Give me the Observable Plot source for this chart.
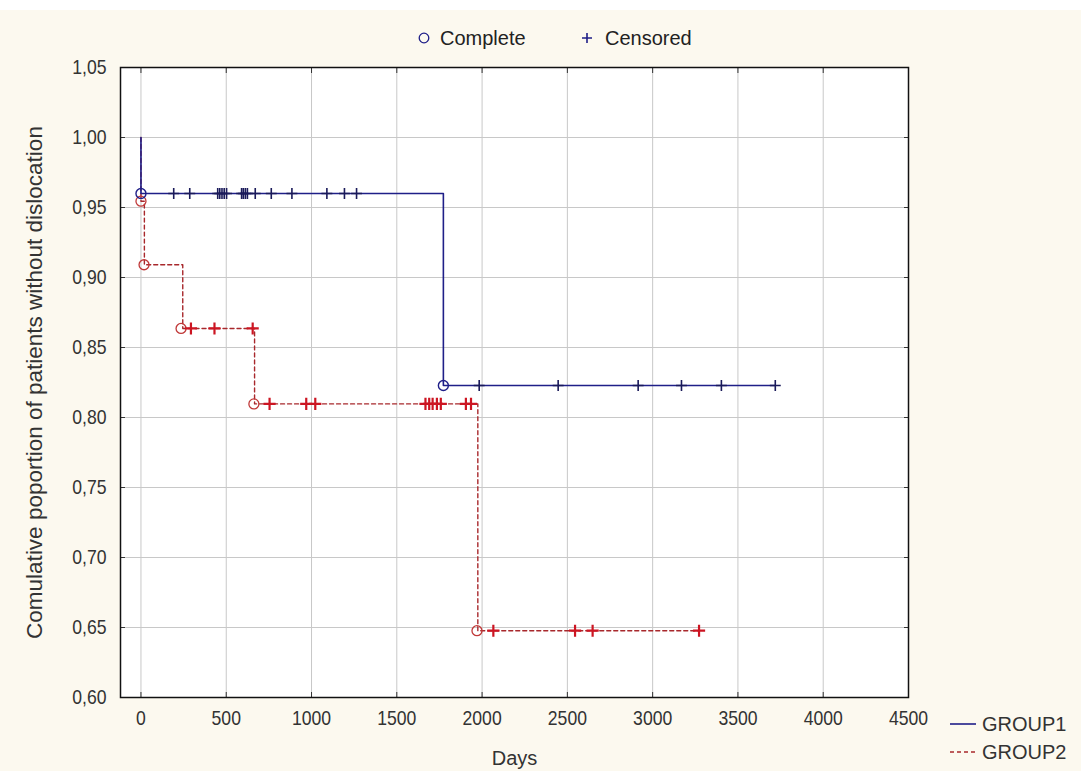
<!DOCTYPE html>
<html><head><meta charset="utf-8">
<script src="https://cdn.jsdelivr.net/npm/d3@7"></script>
<script src="https://cdn.jsdelivr.net/npm/@observablehq/plot@0.6"></script>
<style>
html,body{margin:0;padding:0;background:#fcf9ef;}
#chart svg{display:block;}
</style></head><body><div id="chart"></div>
<script>
// ---- data ----
const groups = ["GROUP1", "GROUP2"];
const statusLabels = ["Complete", "Censored"];
const xTicks = [0, 500, 1000, 1500, 2000, 2500, 3000, 3500, 4000, 4500];
const yTicks = [0.60, 0.65, 0.70, 0.75, 0.80, 0.85, 0.90, 0.95, 1.00, 1.05];

// Kaplan-Meier step vertices
const g1StepDays = [0, 0, 1773, 3719];
const g1StepSurv = [1.0, 0.96, 0.8229, 0.8229];
const g2StepDays = [0, 0, 20, 245, 666, 1975, 3272];
const g2StepSurv = [1.0, 0.9545, 0.9091, 0.8636, 0.8097, 0.6477, 0.6477];

// complete (event) observations
const g1CompleteDays = [0, 1773];
const g1CompleteSurv = [0.96, 0.8229];
const g2CompleteDays = [0, 18, 235, 662, 1970];
const g2CompleteSurv = [0.9545, 0.9091, 0.8636, 0.8097, 0.6477];

// censored observations
const g1CensoredDays = [192, 286, 450, 462, 475, 488, 502, 590, 600, 612, 624, 670, 764, 885, 1090, 1193, 1264,
                        1983, 2446, 2915, 3169, 3403, 3719];
const g1CensoredSurv = [0.96, 0.96, 0.96, 0.96, 0.96, 0.96, 0.96, 0.96, 0.96, 0.96, 0.96, 0.96, 0.96, 0.96, 0.96, 0.96, 0.96,
                        0.8229, 0.8229, 0.8229, 0.8229, 0.8229, 0.8229];
const g2CensoredDays = [293, 431, 655, 754, 969, 1022, 1668, 1690, 1710, 1735, 1758, 1905, 1935, 2066, 2545, 2648, 3272];
const g2CensoredSurv = [0.8636, 0.8636, 0.8636, 0.8097, 0.8097, 0.8097, 0.8097, 0.8097, 0.8097, 0.8097, 0.8097, 0.8097, 0.8097,
                        0.6477, 0.6477, 0.6477, 0.6477];

// ---- tables ----
const zip = (xs, ys, g) => xs.map((x, i) => ({day: x, surv: ys[i], group: g}));
const step1 = zip(g1StepDays, g1StepSurv, groups[0]);
const step2 = zip(g2StepDays, g2StepSurv, groups[1]);
const comp1 = zip(g1CompleteDays, g1CompleteSurv, groups[0]);
const comp2 = zip(g2CompleteDays, g2CompleteSurv, groups[1]);
const cens1 = zip(g1CensoredDays, g1CensoredSurv, groups[0]);
const cens2 = zip(g2CensoredDays, g2CensoredSurv, groups[1]);

const BLUE = "#1f1f88", BLUE_T = "#1a1a5a", RED = "#a8282c", RED_P = "#cc1522", RED_C = "#c03838";
const FONT = "'Liberation Sans', Arial, sans-serif";
const fmtY = d => d3.format(".2f")(d).replace(".", ",");
const blank = () => "";

const W = 1081, H = 771;
const chart = Plot.plot({
  width: W, height: H,
  marginLeft: 120, marginRight: 173, marginTop: 67, marginBottom: 74,
  style: {fontFamily: FONT, fontSize: "20px", color: "#333", background: "transparent", overflow: "visible"},
  x: {domain: [-120, 4500]},
  y: {domain: [0.60, 1.05]},
  marks: [
    Plot.frame({fill: "white", stroke: null}),
    Plot.gridX(xTicks, {stroke: "#c8c8c8", strokeOpacity: 1, strokeWidth: 1}),
    Plot.gridY(yTicks, {stroke: "#c8c8c8", strokeOpacity: 1, strokeWidth: 1}),
    Plot.lineY(step2, {x: "day", y: "surv", curve: "step-after", stroke: RED, strokeWidth: 1.4, strokeDasharray: "4,3"}),
    Plot.lineY(step1, {x: "day", y: "surv", curve: "step-after", stroke: BLUE, strokeWidth: 1.6}),
    Plot.dot(comp2, {x: "day", y: "surv", r: 5, stroke: RED_C, strokeWidth: 1.3, fill: "none"}),
    Plot.dot(comp1, {x: "day", y: "surv", r: 5, stroke: BLUE, strokeWidth: 1.4, fill: "none"}),
    Plot.dot(cens2, {x: "day", y: "surv", symbol: "plus", r: 4, stroke: RED_P, strokeWidth: 2.2}),
    Plot.dot(cens1, {x: "day", y: "surv", symbol: "plus", r: 3.6, stroke: BLUE_T, strokeWidth: 1.6}),
    Plot.axisX({ticks: xTicks, tickSize: 0, tickPadding: 13, tickFormat: d3.format("d"), fill: "#333",
                className: "tick-lbl", label: null}),
    Plot.axisX({ticks: xTicks, anchor: "bottom", tickSize: -5, tickFormat: blank,
                label: "Days", labelAnchor: "center", labelOffset: 67, labelArrow: "none"}),
    Plot.axisX({ticks: xTicks, anchor: "top", tickSize: -5, tickFormat: blank, label: null}),
    Plot.axisY({ticks: yTicks, tickSize: 0, tickPadding: 14, tickFormat: fmtY, fill: "#333",
                className: "tick-lbl", label: null}),
    Plot.axisY({ticks: yTicks, anchor: "left", tickSize: -5, tickFormat: blank, fontSize: "22.5px",
                label: "Comulative poportion of patients without dislocation", labelAnchor: "center", labelOffset: 94, labelArrow: "none"}),
    Plot.axisY({ticks: yTicks, anchor: "right", tickSize: -5, tickFormat: blank, label: null}),
    Plot.frame({stroke: "#111", strokeWidth: 1.5})
  ]
});

const svgSel = d3.select(chart);
// narrow look of the tick numbers
svgSel.selectAll("g[aria-label$='tick label'] text").each(function() {
  if (!this.textContent) return;
  const t = this.getAttribute("transform") || "";
  this.setAttribute("transform", t + " scale(0.88,1)");
});

// ---- legends (added into the same svg) ----
svgSel.insert("rect", ":first-child").attr("x", 0).attr("y", 0).attr("width", W).attr("height", 10).attr("fill", "white");
const topLegend = svgSel.append("g").attr("font-family", FONT).attr("font-size", 20).attr("fill", "#222").attr("text-anchor", "start");
topLegend.append("circle").attr("cx", 424).attr("cy", 38).attr("r", 4.8).attr("fill", "none").attr("stroke", BLUE).attr("stroke-width", 1.3);
topLegend.append("text").attr("x", 440).attr("y", 45).text(statusLabels[0]);
topLegend.append("path").attr("d", "M582,38h10M587,33v10").attr("stroke", BLUE).attr("stroke-width", 1.6);
topLegend.append("text").attr("x", 605).attr("y", 45).text(statusLabels[1]);

const groupLegend = svgSel.append("g").attr("font-family", FONT).attr("font-size", 20).attr("fill", "#333").attr("text-anchor", "start");
groupLegend.append("line").attr("x1", 950).attr("x2", 976).attr("y1", 724).attr("y2", 724).attr("stroke", BLUE).attr("stroke-width", 1.6);
groupLegend.append("line").attr("x1", 950).attr("x2", 976).attr("y1", 752).attr("y2", 752).attr("stroke", RED).attr("stroke-width", 1.4).attr("stroke-dasharray", "4,3");
groupLegend.append("text").attr("x", 982).attr("y", 731).text(groups[0]);
groupLegend.append("text").attr("x", 982).attr("y", 759).text(groups[1]);

document.getElementById("chart").appendChild(chart);
</script></body></html>
